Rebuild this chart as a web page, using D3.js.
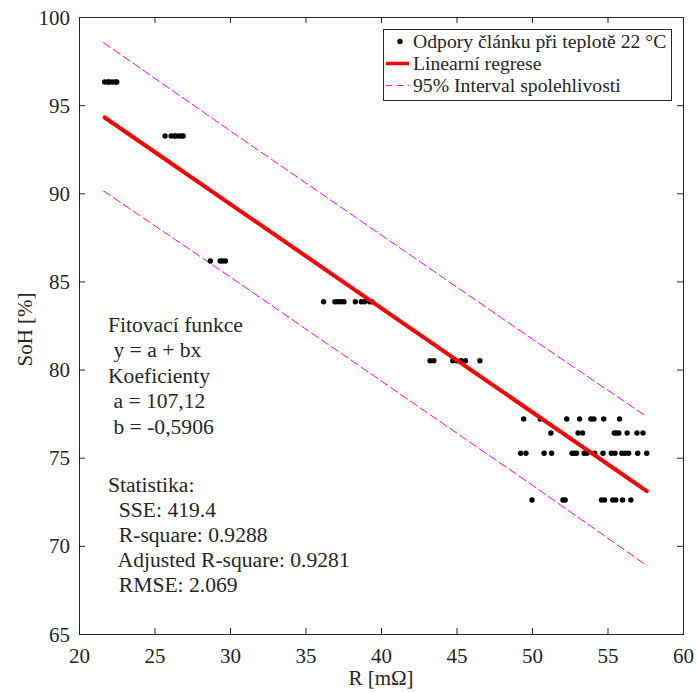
<!DOCTYPE html>
<html><head><meta charset="utf-8">
<script src="https://cdn.jsdelivr.net/npm/d3@7"></script>
<style>
html,body{margin:0;padding:0;background:#fff;}
svg text{font-family:"Liberation Serif","Times New Roman",Times,serif;fill:#262626;}
</style></head>
<body><svg id="c" width="697" height="693"></svg>
<script>
// ---- data ----
const sohLevels = [96.31, 93.25, 86.16, 83.85, 80.5, 77.2, 76.4, 75.25, 72.6];
const rValues = [
  [21.7, 21.9, 22.0, 22.2, 22.4, 22.5],
  [25.7, 26.1, 26.3, 26.4, 26.6, 26.8, 26.9],
  [28.7, 29.35, 29.5, 29.7],
  [36.2, 36.95, 37.15, 37.35, 37.55, 38.3, 38.7, 38.9, 39.25, 39.4],
  [43.25, 43.5, 44.75, 45.0, 45.3, 45.6, 46.55],
  [49.45, 50.55, 52.3, 53.15, 53.9, 54.1, 54.75, 55.8],
  [51.25, 53.05, 53.35, 55.45, 55.6, 55.75, 56.3, 56.95, 57.35],
  [49.25, 49.6, 50.8, 51.3, 52.65, 52.8, 52.95, 53.45, 53.65, 54.15, 54.7, 55.25, 55.5, 55.95, 56.15, 56.4, 57.0, 57.6],
  [50.0, 52.05, 52.2, 54.6, 54.8, 55.35, 55.55, 56.0, 56.55]
];
const fitX = [21.7, 57.6];
const fitY = [94.3, 73.1];
const boundX = [21.6, 30, 40, 50, 57.6];
const upperY = [98.56, 93.55, 87.64, 81.74, 77.33];
const lowerY = [90.15, 85.26, 79.36, 73.45, 68.88];
const xTicks = [20, 25, 30, 35, 40, 45, 50, 55, 60];
const yTicks = [65, 70, 75, 80, 85, 90, 95, 100];
const legendLabels = ["Odpory článku při teplotě 22 °C", "Linearní regrese", "95% Interval spolehlivosti"];
const fitText = ["Fitovací funkce", " y = a + bx", "Koeficienty", " a = 107,12", " b = -0,5906"];
const statText = ["Statistika:", "  SSE: 419.4", "  R-square: 0.9288", "  Adjusted R-square: 0.9281", "  RMSE: 2.069"];

// ---- layout ----
const L = 79, R = 683, T = 17, B = 634;
const FS = 21, FA = 21.6;
const svg = d3.select("#c");
const x = d3.scaleLinear().domain([20, 60]).range([L, R]);
const y = d3.scaleLinear().domain([65, 100]).range([B, T]);
const axCol = "#262626";

const points = [];
sohLevels.forEach((s, i) => rValues[i].forEach(r => points.push([r, s])));

// bounds
const line = d3.line().x(d => x(d[0])).y(d => y(d[1]));
[upperY, lowerY].forEach(arr => {
  svg.append("path").datum(boundX.map((v, i) => [v, arr[i]]))
    .attr("d", line).attr("fill", "none").attr("stroke", "#ff00ff")
    .attr("stroke-width", 1).attr("stroke-dasharray", "9,3");
});

// points
svg.append("g").selectAll("circle").data(points).join("circle")
  .attr("cx", d => x(d[0])).attr("cy", d => y(d[1])).attr("r", 2.7).attr("fill", "#000");

// regression line
svg.append("path").datum(fitX.map((v, i) => [v, fitY[i]]))
  .attr("d", line).attr("fill", "none").attr("stroke", "#ff0000")
  .attr("stroke-width", 4).attr("stroke-linecap", "round");

// axes
const tl = 6;
const gx = svg.append("g").attr("transform", `translate(0,${B})`)
  .call(d3.axisBottom(x).tickValues(xTicks).tickSize(-tl).tickPadding(0).tickFormat(d3.format("d")));
const gy = svg.append("g").attr("transform", `translate(${L},0)`)
  .call(d3.axisLeft(y).tickValues(yTicks).tickSize(-tl).tickPadding(0).tickFormat(d3.format("d")));
const gxt = svg.append("g").attr("transform", `translate(0,${T})`)
  .call(d3.axisTop(x).tickValues(xTicks).tickSize(-tl).tickFormat(""));
const gyr = svg.append("g").attr("transform", `translate(${R},0)`)
  .call(d3.axisRight(y).tickValues(yTicks).tickSize(-tl).tickFormat(""));
[gx, gy, gxt, gyr].forEach(g => {
  g.attr("font-family", null);
  g.select(".domain").attr("stroke", axCol).attr("stroke-width", 1);
  g.selectAll(".tick line").attr("stroke", axCol);
});
gx.selectAll(".tick text").attr("y", 29).attr("dy", 0).attr("font-size", FS).attr("fill", axCol);
gy.selectAll(".tick text").attr("x", -9).attr("dy", "0.34em").attr("font-size", FS).attr("fill", axCol);
svg.selectAll(".domain").attr("shape-rendering", "crispEdges");

// axis labels
svg.append("text").attr("x", (L + R) / 2).attr("y", 685).attr("text-anchor", "middle")
  .attr("font-size", FS).text("R [mΩ]");
svg.append("text").attr("transform", `translate(32,${(T + B) / 2 + 4}) rotate(-90)`)
  .attr("text-anchor", "middle").attr("font-size", FS).text("SoH [%]");

// legend
const lg = svg.append("g");
lg.append("rect").attr("x", 383.5).attr("y", 29.5).attr("width", 288).attr("height", 71)
  .attr("fill", "#fff").attr("stroke", axCol).attr("stroke-width", 1);
const ly = [41.5, 63.5, 85.5];
lg.append("circle").attr("cx", 400).attr("cy", ly[0]).attr("r", 2.7).attr("fill", "#000");
lg.append("line").attr("x1", 386).attr("x2", 409).attr("y1", ly[1]).attr("y2", ly[1])
  .attr("stroke", "#ff0000").attr("stroke-width", 3.5);
lg.append("line").attr("x1", 386).attr("x2", 409).attr("y1", ly[2]).attr("y2", ly[2])
  .attr("stroke", "#ff00ff").attr("stroke-width", 1).attr("stroke-dasharray", "6,5");
lg.selectAll("text.lt").data(legendLabels).join("text").attr("class", "lt")
  .attr("x", 413).attr("y", (d, i) => ly[i] + 6.5).attr("font-size", 19.7).attr("fill", "#000").text(d => d);

// annotation text
svg.append("g").selectAll("text").data(fitText).join("text")
  .attr("x", 108).attr("y", (d, i) => 332 + i * 25.4).attr("font-size", FA)
  .style("white-space", "pre").attr("xml:space", "preserve").attr("fill", "#000").text(d => d);
svg.append("g").selectAll("text").data(statText).join("text")
  .attr("x", 108).attr("y", (d, i) => 491.5 + i * 25.1).attr("font-size", FA)
  .style("white-space", "pre").attr("xml:space", "preserve").attr("fill", "#000").text(d => d);
</script></body></html>
